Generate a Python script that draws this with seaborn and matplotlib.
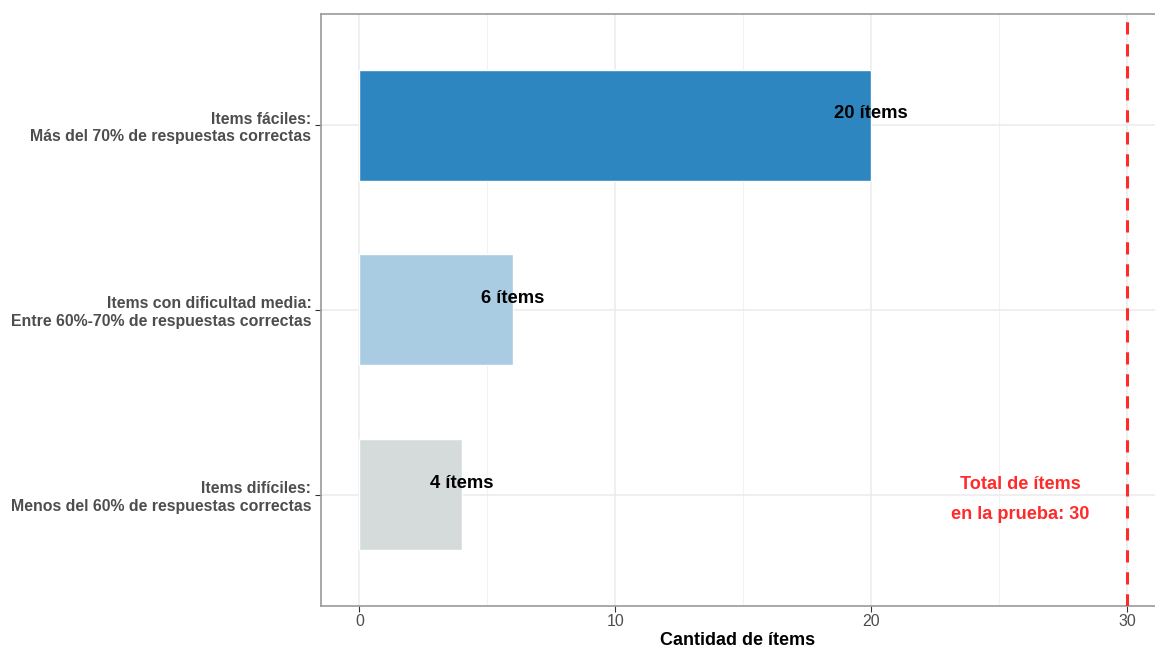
import matplotlib
matplotlib.use("Agg")
import matplotlib.pyplot as plt
import seaborn as sns
import pandas as pd

categorias = [
    "Items fáciles:\nMás del 70% de respuestas correctas",
    "Items con dificultad media:\nEntre 60%-70% de respuestas correctas",
    "Items difíciles:\nMenos del 60% de respuestas correctas",
]
cantidades = [20, 6, 4]
colores = ["#2E86C1", "#A9CCE3", "#D5DBDB"]
total_items = 30
etiquetas = [f"{v} ítems" for v in cantidades]

df = pd.DataFrame({"categoria": categorias, "cantidad": cantidades})

sns.set_theme(style="white")
plt.rcParams["font.family"] = ["Liberation Sans", "DejaVu Sans"]

fig = plt.figure(figsize=(11.55, 6.49), dpi=100)
ax = fig.add_axes([0.2779, 0.0663, 0.7221, 0.9121])

sns.barplot(data=df, x="cantidad", y="categoria", hue="categoria",
            palette=colores, order=categorias, hue_order=categorias,
            width=0.6, legend=False, saturation=1, ax=ax, zorder=2)

# grid: major and minor on x, one line per category on y
for xv in [0, 10, 20, 30]:
    ax.axvline(xv, color="#EBEBEB", lw=1.1, zorder=0)
for xv in [5, 15, 25]:
    ax.axvline(xv, color="#F2F2F2", lw=0.8, zorder=0)
for yv in range(len(categorias)):
    ax.axhline(yv, color="#EBEBEB", lw=1.1, zorder=0)

# value labels
for i, (v, t) in enumerate(zip(cantidades, etiquetas)):
    ax.text(v, i - 0.06, t, ha="center", va="center",
            fontsize=13.3, fontweight="bold", color="black", zorder=3)

# total reference line
ax.axvline(total_items, color="#FF2A2A", lw=2.2, ls=(0, (4, 3.2)), zorder=3)
ax.text(25.85, 2.025, f"Total de ítems\nen la prueba: {total_items}",
        ha="center", va="center", color="#FF2A2A", fontsize=13.1,
        fontweight="bold", linespacing=1.95, zorder=3)

ax.set_xlim(-1.5, 31.1)
ax.set_ylim(2.6, -0.6)
ax.set_xticks([0, 10, 20, 30])
ax.set_xlabel("Cantidad de ítems", fontsize=13, fontweight="bold",
              color="black", labelpad=2)
ax.set_ylabel("")

ax.tick_params(axis="x", labelsize=11.5, labelcolor="#4D4D4D", length=4,
               width=0.8, color="#333333", direction="out", bottom=True, pad=2)
ax.tick_params(axis="y", labelsize=11.4, labelcolor="#4D4D4D", length=4,
               width=0.8, color="#333333", direction="out", left=True, pad=3)
for lab in ax.get_yticklabels():
    lab.set_fontweight("bold")
    lab.set_horizontalalignment("right")
    lab.set_multialignment("right")

for side in ["left", "bottom", "top", "right"]:
    ax.spines[side].set_visible(True)
    ax.spines[side].set_color("#999999")
    ax.spines[side].set_linewidth(1.2)
ax.spines["right"].set_visible(False)

fig.savefig("out.png", dpi=100)
